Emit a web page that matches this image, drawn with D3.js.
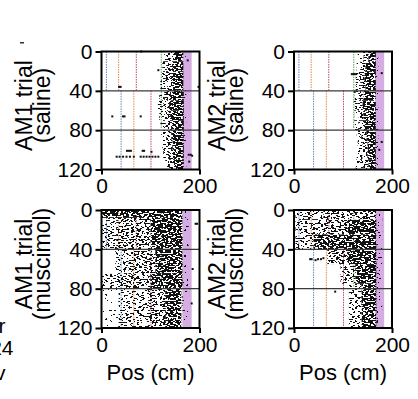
<!DOCTYPE html>
<html>
<head>
<meta charset="utf-8">
<script src="https://cdn.jsdelivr.net/npm/d3@7"></script>
<style>
  body { margin: 0; background: #fff; }
  svg { display: block; font-family: "Liberation Sans", Arial, sans-serif; }
</style>
</head>
<body>
<svg id="chart" width="418" height="399"></svg>
<script>
/*global d3*/

// ---- data ----
var tracks = ["AM1", "AM2"];
var conditions = ["saline", "muscimol"];
var trialTicks = [0, 40, 80, 120];
var posTicks = [0, 200];
var gridTrials = [40, 80];
var rewardZone = [165, 184];

// landmark cues: [firstTrial, lastTrial, position cm]
var cueBlue = [[0, 40, 10], [40, 120, 40]];
var cueOrange = [[0, 40, 35], [40, 120, 66]];
var cueRed = [[0, 40, 71], [40, 120, 101]];
var cueGreen = [[0, 78, 122]];

// saline lick zone per 10 trials:
// [firstTrial, lastTrial, sparse from, medium from, dense from, licking ends]
var zoneAM1Saline = [
  [0, 10, 128, 140, 150, 167],
  [10, 20, 124, 132, 144, 167],
  [20, 30, 122, 130, 142, 167],
  [30, 40, 120, 134, 146, 167],
  [40, 50, 118, 128, 140, 168],
  [50, 60, 115, 126, 138, 168],
  [60, 70, 118, 128, 140, 168],
  [70, 80, 120, 130, 142, 168],
  [80, 90, 122, 132, 143, 168],
  [90, 100, 124, 134, 145, 168],
  [100, 110, 126, 136, 146, 168],
  [110, 120, 130, 138, 148, 168]
];
var zoneAM2Saline = [
  [0, 10, 130, 142, 152, 167],
  [10, 20, 128, 136, 146, 167],
  [20, 30, 126, 132, 144, 167],
  [30, 40, 126, 136, 146, 167],
  [40, 50, 124, 132, 142, 167],
  [50, 60, 122, 130, 140, 167],
  [60, 70, 124, 132, 142, 167],
  [70, 80, 122, 132, 143, 167],
  [80, 90, 128, 138, 148, 167],
  [90, 100, 130, 140, 150, 167],
  [100, 110, 128, 140, 150, 167],
  [110, 120, 126, 142, 152, 167]
];

// muscimol lick bands: [firstTrial, lastTrial, fromPos, toPos, density 1..4]
var bandsAM1Muscimol = [
  [0, 8, 0, 165, 4],
  [8, 40, 0, 30, 2], [8, 40, 30, 100, 3], [8, 40, 100, 165, 4],
  [40, 65, 28, 55, 2], [40, 65, 55, 110, 3], [40, 65, 110, 165, 4],
  [65, 80, 0, 30, 2], [65, 80, 30, 100, 3], [65, 80, 100, 165, 4],
  [80, 120, 0, 35, 1], [80, 120, 35, 95, 2], [80, 120, 95, 130, 3], [80, 120, 130, 163, 4],
  [0, 120, 165, 178, 1]
];
var bandsAM2Muscimol = [
  [0, 10, 3, 60, 2], [0, 10, 60, 168, 3],
  [10, 25, 3, 35, 2], [10, 25, 35, 110, 3], [10, 25, 110, 168, 4],
  [25, 40, 3, 40, 2], [25, 40, 40, 168, 4],
  [40, 55, 68, 110, 3], [40, 55, 110, 168, 4],
  [55, 75, 95, 125, 2], [55, 75, 125, 168, 4],
  [75, 120, 112, 138, 2], [75, 120, 138, 168, 4],
  [0, 120, 168, 180, 1]
];

// single licks: [position cm, trial]
var licksAM1Saline = [
  [81, 0], [176, 9], [116, 19], [36, 36], [39, 36], [198, 36],
  [22, 66], [44, 66], [47, 66], [80, 66],
  [52, 101], [56, 101], [60, 101], [84, 101], [87, 101], [102, 102],
  [31, 107], [37, 107], [44, 107], [51, 107], [58, 107], [66, 107], [80, 107],
  [86, 107], [92, 107], [98, 107], [104, 107], [110, 107], [116, 107],
  [178, 105], [182, 105], [185, 106], [179, 112]
];
var licksAM2Saline = [
  [118, 23], [121, 23], [124, 23], [127, 23], [179, 22], [124, 41],
  [179, 92], [174, 100]
];
var licksAM1Muscimol = [
  [192, 14], [195, 14], [186, 60], [184, 95]
];
var licksAM2Muscimol = [
  [33, 50], [36, 50], [44, 51], [49, 50], [55, 50], [60, 49], [84, 83]
];

function zoneBands(zone) {
  var out = [];
  zone.forEach(function(z) {
    out.push([z[0], z[1], z[2], z[3], 2]);
    out.push([z[0], z[1], z[3], z[4], 3]);
    out.push([z[0], z[1], z[4], z[5], 4]);
    out.push([z[0], z[1], z[5], z[5] + 5, 1]);
  });
  return out;
}

var panels = [
  { track: 0, cond: 0, bands: zoneBands(zoneAM1Saline), licks: licksAM1Saline },
  { track: 1, cond: 0, bands: zoneBands(zoneAM2Saline), licks: licksAM2Saline },
  { track: 0, cond: 1, bands: bandsAM1Muscimol, licks: licksAM1Muscimol },
  { track: 1, cond: 1, bands: bandsAM2Muscimol, licks: licksAM2Muscimol }
];
var cues = [
  { segs: cueBlue, color: "#5f86c4" },
  { segs: cueOrange, color: "#e08a4e" },
  { segs: cueRed, color: "#b94a62" },
  { segs: cueGreen, color: "#5fa363" }
];

// ---- layout ----
var W = 98, H = 118;
var colX = [101.5, 294];
var rowY = [51.5, 210];

var svg = d3.select("#chart");
svg.append("rect").attr("width", 418).attr("height", 399).attr("fill", "#fff");

// speckle texture for the lick bands (style only): thresholded noise
var defs = svg.append("defs");
var noiseCut = { 1: 0.65, 2: 0.58, 3: 0.53, 4: 0.46 };
[1, 2, 3, 4].forEach(function(level) {
  var k = Math.round(noiseCut[level] * 50);
  var table = d3.range(50).map(function(i) { return i >= k ? 1 : 0; }).join(" ");
  var f = defs.append("filter")
      .attr("id", "licks" + level)
      .attr("filterUnits", "userSpaceOnUse")
      .attr("x", 0).attr("y", 0).attr("width", 418).attr("height", 399)
      .attr("color-interpolation-filters", "sRGB");
  f.append("feTurbulence")
      .attr("type", "fractalNoise")
      .attr("baseFrequency", "0.38 0.68")
      .attr("numOctaves", 1)
      .attr("seed", 7)
      .attr("result", "noise");
  f.append("feColorMatrix")
      .attr("in", "noise")
      .attr("type", "matrix")
      .attr("values", "0 0 0 0 0  0 0 0 0 0  0 0 0 0 0  1 0 0 0 0")
      .attr("result", "grey");
  f.append("feComponentTransfer")
      .attr("in", "grey")
      .attr("result", "mask")
    .append("feFuncA")
      .attr("type", "discrete")
      .attr("tableValues", table);
  f.append("feComposite")
      .attr("in", "SourceGraphic")
      .attr("in2", "mask")
      .attr("operator", "in");
});

panels.forEach(function(p) {
  var x0 = colX[p.track], y0 = rowY[p.cond];
  var x = d3.scaleLinear().domain([0, 200]).range([x0, x0 + W]);
  var y = d3.scaleLinear().domain([0, 120]).range([y0, y0 + H]);
  var g = svg.append("g");

  // reward zone
  g.append("rect")
      .attr("x", x(rewardZone[0]))
      .attr("y", y(0))
      .attr("width", x(rewardZone[1]) - x(rewardZone[0]))
      .attr("height", y(120) - y(0))
      .attr("fill", "#d5ade3");

  // landmark lines
  cues.forEach(function(c) {
    g.selectAll(null)
      .data(c.segs)
      .enter().append("line")
        .attr("x1", function(d) { return x(d[2]); })
        .attr("x2", function(d) { return x(d[2]); })
        .attr("y1", function(d) { return y(d[0]); })
        .attr("y2", function(d) { return y(d[1]); })
        .attr("stroke", c.color)
        .attr("stroke-width", 1)
        .attr("stroke-dasharray", "1.5,1");
  });

  // lick bands
  g.selectAll(null)
    .data(p.bands)
    .enter().append("rect")
      .attr("x", function(d) { return x(d[2]); })
      .attr("y", function(d) { return y(d[0]); })
      .attr("width", function(d) { return x(d[3]) - x(d[2]); })
      .attr("height", function(d) { return y(d[1]) - y(d[0]); })
      .attr("fill", "#111")
      .attr("filter", function(d) { return "url(#licks" + d[4] + ")"; });

  // single licks
  g.selectAll(null)
    .data(p.licks)
    .enter().append("rect")
      .attr("x", function(d) { return x(d[0]) - 1; })
      .attr("y", function(d) { return y(d[1]) - 1; })
      .attr("width", 2)
      .attr("height", 2)
      .attr("fill", "#111");

  // block lines
  g.selectAll(null)
    .data(gridTrials)
    .enter().append("line")
      .attr("x1", x(0))
      .attr("x2", x(200))
      .attr("y1", function(d) { return y(d); })
      .attr("y2", function(d) { return y(d); })
      .attr("stroke", "#3a3a3a")
      .attr("stroke-width", 1.3);

  // frame
  g.append("rect")
      .attr("x", x0)
      .attr("y", y0)
      .attr("width", W)
      .attr("height", H)
      .attr("fill", "none")
      .attr("stroke", "#000")
      .attr("stroke-width", 2);

  var yAxis = g.append("g")
      .attr("transform", "translate(" + x0 + ",0)")
      .call(d3.axisLeft(y).tickValues(trialTicks).tickSize(6).tickPadding(3));
  var xAxis = g.append("g")
      .attr("transform", "translate(0," + (y0 + H) + ")")
      .call(d3.axisBottom(x).tickValues(posTicks).tickSize(5).tickPadding(4));
  [yAxis, xAxis].forEach(function(a) {
    a.select(".domain").remove();
    a.attr("font-family", null).attr("font-size", null);
    a.selectAll("line").attr("stroke", "#000").attr("stroke-width", 2);
    a.selectAll("text").attr("fill", "#000").style("font-size", "21px");
  });

  // y label, two lines
  var cy = y0 + H / 2 - 5;
  g.append("text")
      .attr("transform", "translate(" + (x0 - 69.5) + "," + cy + ") rotate(-90)")
      .attr("text-anchor", "middle")
      .style("font-size", "23px")
      .text(tracks[p.track] + " trial");
  g.append("text")
      .attr("transform", "translate(" + (x0 - 51.5) + "," + cy + ") rotate(-90)")
      .attr("text-anchor", "middle")
      .style("font-size", "23px")
      .text("(" + conditions[p.cond] + ")");

  if (p.cond === 1) {
    g.append("text")
        .attr("x", x0 + W / 2)
        .attr("y", y0 + H + 52)
        .attr("text-anchor", "middle")
        .style("font-size", "22px")
        .text("Pos (cm)");
  }
});

// bits of the neighbouring panel, cut off at the left edge as in the source
svg.append("rect").attr("x", 20).attr("y", 42).attr("width", 4).attr("height", 1.5).attr("fill", "#333");
svg.append("text").attr("x", 5.5).attr("y", 333).attr("text-anchor", "end").style("font-size", "21px").text("r");
svg.append("text").attr("x", 13.5).attr("y", 355).attr("text-anchor", "end").style("font-size", "21px").text("24");
svg.append("text").attr("x", 5.5).attr("y", 380).attr("text-anchor", "end").style("font-size", "21px").text("v");
</script>
</body>
</html>
